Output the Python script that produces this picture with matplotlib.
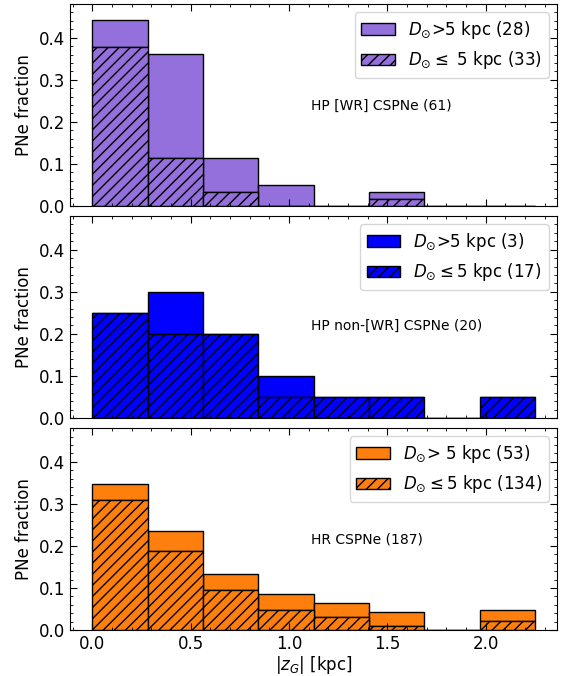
import numpy as np
import matplotlib.pyplot as plt
from matplotlib.ticker import MultipleLocator

# bin edges in |z_G| [kpc]
edges = np.linspace(0.0, 2.25, 9)

# counts per bin, D <= 5 kpc (hatched) and D > 5 kpc (stacked on top)
wr_near = [23, 7, 2, 0, 0, 1, 0, 0]
wr_far = [4, 15, 5, 3, 0, 1, 0, 0]
wr_total = 61

nonwr_near = [5, 4, 4, 1, 1, 1, 0, 1]
nonwr_far = [0, 2, 0, 1, 0, 0, 0, 0]
nonwr_total = 20

hr_near = [58, 35, 18, 9, 6, 2, 0, 4]
hr_far = [7, 9, 7, 7, 6, 6, 0, 5]
hr_total = 187

panels = [
    (wr_near, wr_far, wr_total, "mediumpurple",
     r"$D_{\odot}$>5 kpc (28)", r"$D_{\odot}\leq$ 5 kpc (33)",
     "HP [WR] CSPNe (61)", 0.238),
    (nonwr_near, nonwr_far, nonwr_total, "blue",
     r"$D_{\odot}$>5 kpc (3)", r"$D_{\odot}\leq5$ kpc (17)",
     "HP non-[WR] CSPNe (20)", 0.218),
    (hr_near, hr_far, hr_total, "#ff7f0e",
     r"$D_{\odot}$> 5 kpc (53)", r"$D_{\odot}\leq5$ kpc (134)",
     "HR CSPNe (187)", 0.215),
]

fig, axes = plt.subplots(3, 1, figsize=(5.65, 6.76), dpi=100, sharex=True)
fig.subplots_adjust(left=0.124, right=0.986, top=0.994, bottom=0.068, hspace=0.05)

width = edges[1] - edges[0]
for ax, (near, far, total, col, lab_far, lab_near, title, ty) in zip(axes, panels):
    near = np.array(near) / total
    far = np.array(far) / total
    b_far = ax.bar(edges[:-1], far, width=width, bottom=near, align="edge",
                   color=col, edgecolor="black", linewidth=1.0, label=lab_far)
    b_near = ax.bar(edges[:-1], near, width=width, align="edge",
                    color=col, edgecolor="black", linewidth=1.0, hatch="///",
                    label=lab_near)
    ax.legend(handles=[b_far, b_near], loc="upper right", fontsize=12)
    ax.text(1.11, ty, title, fontsize=10, va="center")
    ax.set_ylim(0, 0.48)
    ax.set_ylabel("PNe fraction", fontsize=12)
    ax.yaxis.set_major_locator(MultipleLocator(0.1))
    ax.yaxis.set_minor_locator(MultipleLocator(0.02))
    ax.xaxis.set_major_locator(MultipleLocator(0.5))
    ax.xaxis.set_minor_locator(MultipleLocator(0.1))
    ax.tick_params(which="both", direction="in", top=True, right=True, labelsize=12)
    ax.tick_params(which="major", length=5)
    ax.tick_params(which="minor", length=2.5)

axes[-1].set_xlabel(r"$|z_G|$ [kpc]", fontsize=12, labelpad=1)

fig.savefig("out.png", dpi=100)
